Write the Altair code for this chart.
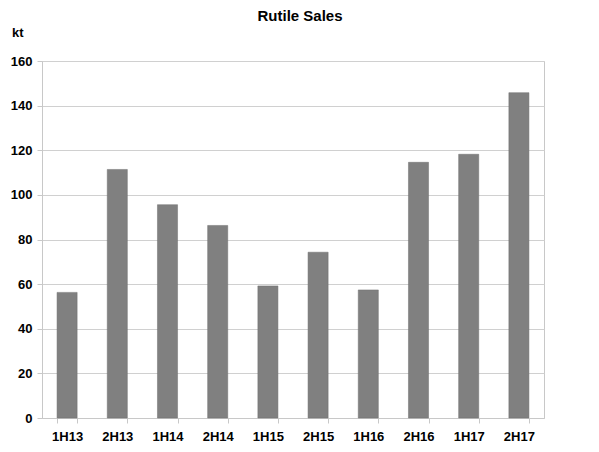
import altair as alt
import pandas as pd

periods = ["1H13", "2H13", "1H14", "2H14", "1H15", "2H15", "1H16", "2H16", "1H17", "2H17"]
sales = [56.3, 111.4, 95.6, 86.3, 59.2, 74.3, 57.4, 114.6, 118.2, 145.8]

df = pd.DataFrame({"period": periods, "sales": sales})

font = "Liberation Sans"

bars = alt.Chart(df).mark_bar(color="#808080", stroke="#6f6f6f", strokeWidth=0.5).encode(
    x=alt.X("period:N", sort=periods, title=None,
            scale=alt.Scale(paddingInner=0.6, paddingOuter=0.3),
            axis=alt.Axis(labelAngle=0, labelFont=font, labelFontWeight="bold",
                          labelFontSize=13, labelColor="#000000", labelPadding=7,
                          tickBand="extent", tickColor="#c8c8c8", tickSize=5,
                          domainColor="#c8c8c8", grid=False)),
    y=alt.Y("sales:Q", title=None,
            scale=alt.Scale(domain=[0, 160], nice=False),
            axis=alt.Axis(values=list(range(0, 161, 20)), labelFont=font,
                          labelFontWeight="bold", labelFontSize=13, labelColor="#000000",
                          labelPadding=5, tickColor="#c8c8c8", tickSize=5,
                          domainColor="#c8c8c8", gridColor="#d0d0d0")),
)

kt = alt.Chart(pd.DataFrame({"t": ["kt"]})).mark_text(
    font=font, fontWeight="bold", fontSize=13, align="left", baseline="middle", color="#000000"
).encode(text="t:N", x=alt.value(-30), y=alt.value(-28))

title = alt.Chart(pd.DataFrame({"t": ["Rutile Sales"]})).mark_text(
    font=font, fontWeight="bold", fontSize=15, align="center", baseline="middle", color="#000000"
).encode(text="t:N", x=alt.value(258), y=alt.value(-45))

chart = alt.layer(bars, kt, title).properties(
    width=502, height=357,
    autosize=alt.AutoSizeParams(type="none"),
    padding={"left": 34, "top": 53, "right": 47, "bottom": 26},
).configure_view(stroke="#c8c8c8")

chart.save("out.html", embed_options={"renderer": "svg", "actions": False})
